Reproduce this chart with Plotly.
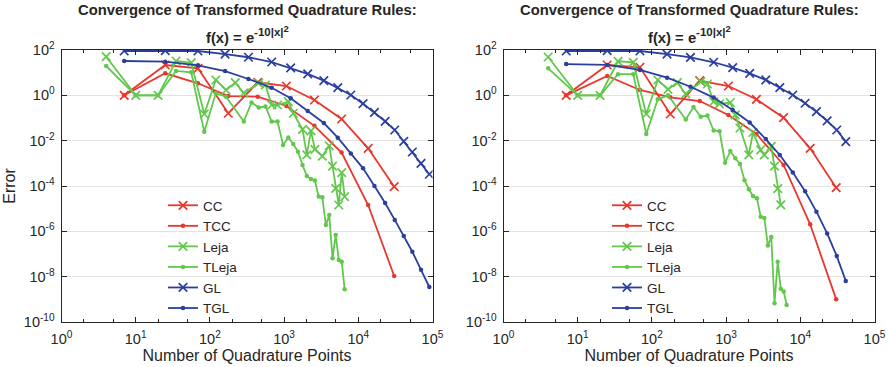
import plotly.graph_objects as go

# ---------------- data ----------------
cc_points = [7, 25, 69, 177, 441, 1073, 2561, 5953, 13575, 30465]
gl_points = [7, 25, 69, 160, 331, 680, 1226, 2080, 3430, 5290, 7930, 11600,
             16500, 23000, 31000, 41000, 53500, 70000, 90600]
leja_points_left = [4, 10, 20, 35, 56, 84, 120, 165, 220, 286, 455, 560, 680, 816,
                    1140, 1330, 1771, 2024, 2300, 2600, 3276, 4060, 4495, 4960,
                    5456, 5984, 6545]
leja_points_right = [4, 10, 20, 35, 56, 84, 120, 165, 220, 286, 455, 560, 680, 816,
                     1140, 1330, 1540, 2024, 2300, 2925, 3276, 4060, 4495, 4960, 5456]
tleja_points = [4, 10, 20, 35, 56, 84, 120, 165, 286, 364, 455, 560, 680, 816, 969,
                1140, 1330, 1540, 1771, 2024, 2300, 2600, 2925, 3276, 3654, 4060,
                4495, 4960, 5456, 5984, 6545]

left_cc_err = [1.0, 21.8, 15.6, 0.162, 3.76, 2.58, 0.622, 0.0904, 4.6e-3, 9.3e-5]
left_tcc_err = [1.0, 9.4, 3.4, 0.93, 0.87, 0.34, 0.045, 3.0e-3, 1.45e-5, 1.07e-8]
left_leja_err = [50.6, 1.0, 1.0, 32.7, 27.5, 0.15, 4.75, 1.72, 3.61, 1.27, 3.5, 2.86,
                 0.375, 0.375, 0.525, 0.162, 0.0316, 2.34e-3, 0.0269, 4.17e-3,
                 2.09e-3, 5.9e-3, 7.6e-4, 7.9e-5, 1.45e-5, 3.9e-4, 3.4e-5]
left_tleja_err = [19.7, 1.0, 1.0, 11.9, 10.4, 0.0249, 1.23, 0.87, 0.070, 0.483, 0.291,
                  0.322, 0.070, 0.070, 6.4e-3, 0.0138, 7.1e-3, 3.27e-3, 8.5e-4,
                  2.76e-4, 2.04e-4, 1.75e-4, 3.4e-5, 3.2e-5, 1.9e-6, 5.2e-6, 6.5e-8,
                  6.9e-7, 5.5e-8, 4.6e-8, 2.8e-9]
left_gl_err = [90.4, 93.3, 90.4, 66, 47.9, 29.5, 16.2, 8.9, 4.43, 2.17, 1.035, 0.427,
               0.178, 0.0716, 0.0295, 9.3e-3, 3.16e-3, 1.0e-3, 3.3e-4]
left_tgl_err = [32.7, 30.5, 21.1, 11.7, 5.25, 2.17, 0.74, 0.204, 0.060, 0.0135,
                2.75e-3, 6.0e-4, 1.0e-4, 1.78e-5, 3.2e-6, 6.3e-7, 1.26e-7, 2.0e-8,
                3.5e-9]

right_cc_err = [1.0, 21.8, 17.3, 0.150, 4.43, 2.58, 0.668, 0.103, 4.6e-3, 8.4e-5]
right_tcc_err = [1.0, 7.13, 1.72, 0.82, 0.562, 0.136, 0.0197, 8.45e-4, 2.05e-6, 1.0e-9]
right_leja_err = [49, 1.0, 1.0, 31.8, 28.2, 0.150, 4.75, 1.85, 3.61, 1.15, 4.0, 3.16,
                  0.525, 0.417, 0.483, 0.136, 0.0363, 2.34e-3, 0.0229, 3.9e-3,
                  2.34e-3, 5.6e-3, 7.6e-4, 7.6e-5, 1.46e-5]
right_tleja_err = [15.6, 1.0, 1.0, 8.57, 8.57, 0.0197, 0.668, 1.0, 0.0859, 0.306,
                   0.114, 0.129, 0.0281, 0.0262, 1.06e-3, 3.5e-3, 1.67e-3, 9.3e-4,
                   1.79e-4, 7.2e-5, 3.6e-5, 2.9e-5, 4.4e-6, 3.9e-6, 2.4e-7, 5.6e-7,
                   6.8e-10, 4.6e-8, 2.9e-9, 2.2e-9, 5.6e-10]
right_gl_err = [90.4, 93.3, 90.4, 66, 46.8, 28.8, 16.6, 9.3, 4.8, 2.17, 1.035, 0.447,
                0.19, 0.074, 0.0295, 9.1e-3]
right_tgl_err = [24, 21.9, 13.2, 6.03, 2.4, 0.794, 0.224, 0.063, 0.0117, 2.34e-3,
                 3.9e-4, 5.9e-5, 7.4e-6, 8.1e-7, 8.1e-8, 6.5e-9]

x_tickvals = [1, 10, 100, 1000, 10000, 100000]
x_ticktext = ['10<sup>0</sup>', '10<sup>1</sup>', '10<sup>2</sup>', '10<sup>3</sup>',
              '10<sup>4</sup>', '10<sup>5</sup>']
y_tickvals = [1e2, 1e0, 1e-2, 1e-4, 1e-6, 1e-8, 1e-10]
y_ticktext = ['10<sup>2</sup>', '10<sup>0</sup>', '10<sup>-2</sup>', '10<sup>-4</sup>',
              '10<sup>-6</sup>', '10<sup>-8</sup>', '10<sup>-10</sup>']

series_names = ['CC', 'TCC', 'Leja', 'TLeja', 'GL', 'TGL']
title_line1 = 'Convergence of Transformed Quadrature Rules:'
title_line2 = ('f(x) = e<sup><span style="font-size:11.5px">-10|x|</span>'
               '<sup><span style="font-size:9.5px">2</span></sup></sup>')

# ---------------- style ----------------
RED = '#e8372c'
GREEN = '#62c84c'
BLUE = '#2b3f9f'
AX = '#262626'
FONT = 'Liberation Sans, Arial, Helvetica, sans-serif'

panels = [
    dict(xa='x', ya='y', legend='legend', data=[
        (cc_points, left_cc_err), (cc_points, left_tcc_err),
        (leja_points_left, left_leja_err), (tleja_points, left_tleja_err),
        (gl_points, left_gl_err), (gl_points, left_tgl_err)]),
    dict(xa='x2', ya='y2', legend='legend2', data=[
        (cc_points, right_cc_err), (cc_points, right_tcc_err),
        (leja_points_right, right_leja_err), (tleja_points, right_tleja_err),
        (gl_points[:len(right_gl_err)], right_gl_err),
        (gl_points[:len(right_tgl_err)], right_tgl_err)]),
]
colors = [RED, RED, GREEN, GREEN, BLUE, BLUE]
crosses = [True, False, True, False, True, False]

fig = go.Figure()
for p in panels:
    for (xs, ys), name, col, cross in zip(p['data'], series_names, colors, crosses):
        if cross:
            marker = dict(symbol='x-thin', size=8.5, color=col, line=dict(width=1.7, color=col))
        else:
            marker = dict(symbol='circle', size=4.5, color=col, line=dict(width=0))
        fig.add_trace(go.Scatter(x=xs, y=ys, name=name, mode='lines+markers',
                                 line=dict(color=col, width=1.8), marker=marker,
                                 xaxis=p['xa'], yaxis=p['ya'], legend=p['legend']))

W, H = 889, 367
def px_x(v):
    return v / W
def px_y(v):
    return 1 - v / H

left_dom = [px_x(61.5), px_x(432.5)]
right_dom = [px_x(503.5), px_x(874.5)]
y_dom = [px_y(322), px_y(50)]

def xaxis(dom, anchor):
    return dict(domain=dom, anchor=anchor, type='log', range=[0, 5], automargin=False,
                tickvals=x_tickvals, ticktext=x_ticktext, ticks='inside', ticklen=5,
                tickcolor=AX, tickwidth=1, ticklabelstandoff=4,
                minor=dict(ticks='inside', ticklen=3, tickcolor=AX, showgrid=False),
                showline=True, linecolor=AX, linewidth=1, mirror='ticks',
                showgrid=False, zeroline=False,
                tickfont=dict(family=FONT, size=14.5, color=AX),
                title=dict(text='Number of Quadrature Points',
                           font=dict(family=FONT, size=16, color=AX), standoff=0))

def yaxis(anchor, title):
    return dict(domain=y_dom, anchor=anchor, type='log', range=[-10, 2], automargin=False,
                tickvals=y_tickvals, ticktext=y_ticktext, ticks='inside', ticklen=5,
                tickcolor=AX, tickwidth=1, ticklabelstandoff=3,
                showline=True, linecolor=AX, linewidth=1, mirror='ticks',
                showgrid=True, gridcolor='#e3e3e3', gridwidth=1.3, zeroline=False,
                tickfont=dict(family=FONT, size=14.5, color=AX),
                title=dict(text=title, font=dict(family=FONT, size=16, color=AX), standoff=4))

legend_common = dict(bgcolor='rgba(255,255,255,0)', borderwidth=0,
                     font=dict(family=FONT, size=13.5, color=AX),
                     xanchor='left', yanchor='top', tracegroupgap=0, itemwidth=30)

fig.update_layout(
    width=W, height=H, margin=dict(l=0, r=0, t=0, b=0, autoexpand=False),
    paper_bgcolor='white', plot_bgcolor='white',
    font=dict(family=FONT, color=AX),
    xaxis=xaxis(left_dom, 'y'), yaxis=yaxis('x', 'Error'),
    xaxis2=xaxis(right_dom, 'y2'), yaxis2=yaxis('x2', ''),
    legend=dict(x=px_x(163), y=px_y(190), **legend_common),
    legend2=dict(x=px_x(607), y=px_y(190), **legend_common),
    showlegend=True,
)

for dom in (left_dom, right_dom):
    cx = (dom[0] + dom[1]) / 2
    fig.add_annotation(text='<b>' + title_line1 + '</b>', x=cx, y=px_y(10), xref='paper',
                       yref='paper', showarrow=False, xanchor='center', yanchor='middle',
                       font=dict(family=FONT, size=14.8, color=AX))
    fig.add_annotation(text='<b>' + title_line2 + '</b>', x=cx, y=px_y(35), xref='paper',
                       yref='paper', showarrow=False, xanchor='center', yanchor='middle',
                       font=dict(family=FONT, size=14.8, color=AX))

fig.write_html('out.html')
